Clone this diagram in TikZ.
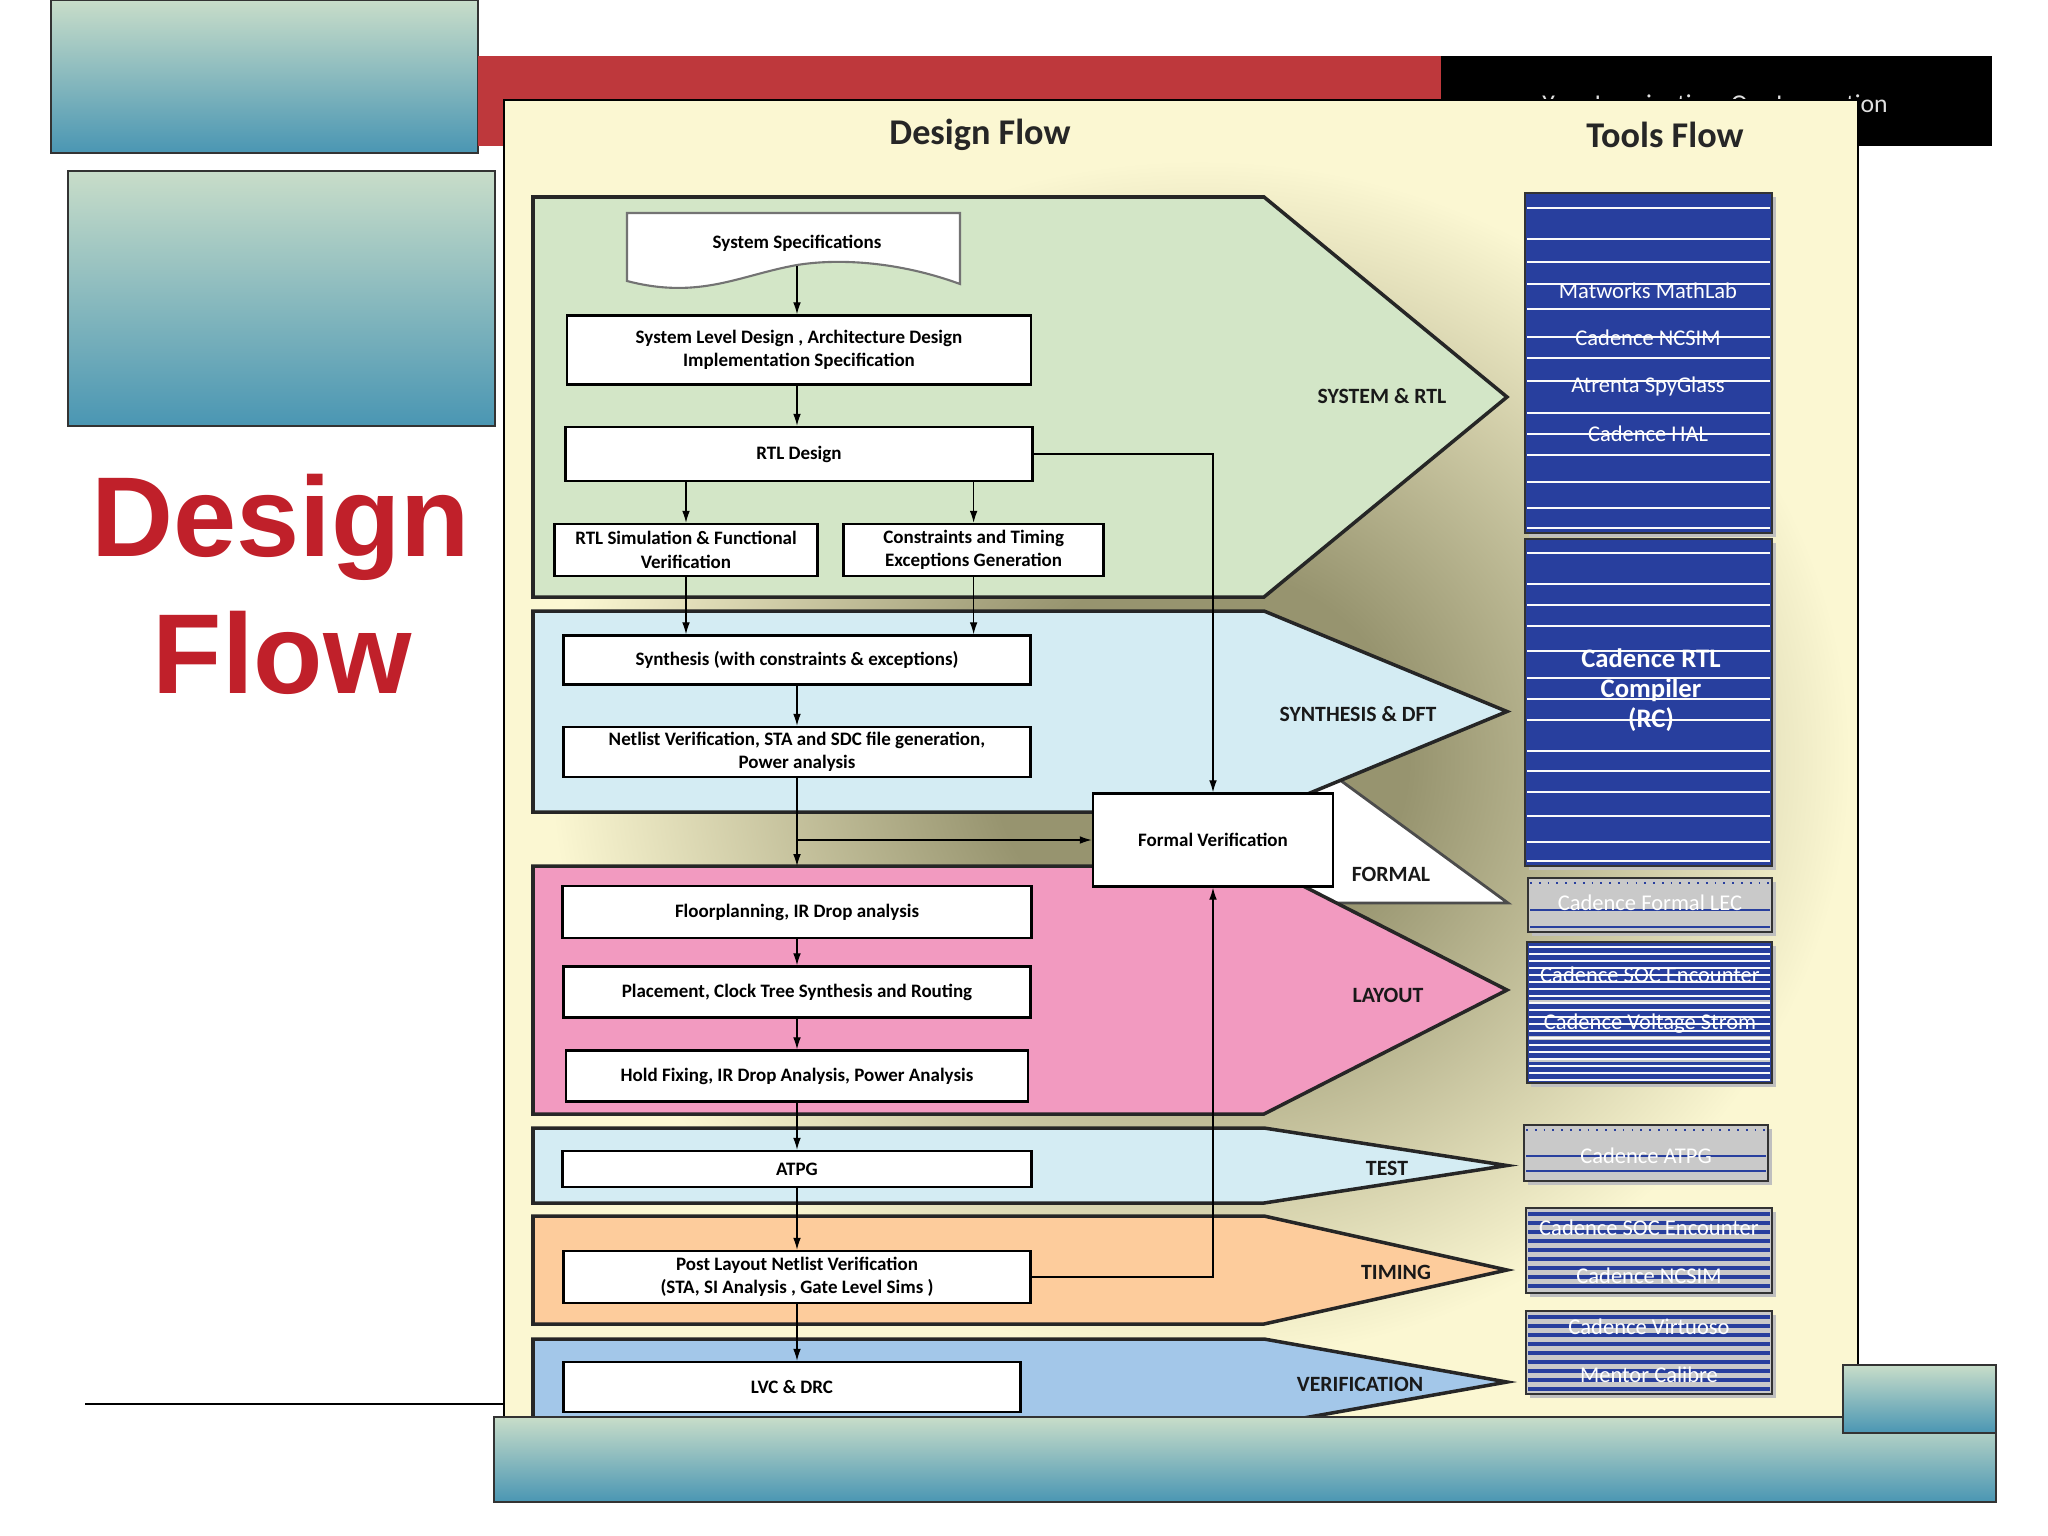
\documentclass[tikz,border=0pt]{standalone}
\usepackage{fontspec}
\setmainfont{Carlito}
\newfontfamily\arialfont{Liberation Sans}
\usetikzlibrary{positioning, arrows.meta}

\definecolor{panelc}{HTML}{FBF7D2}
\definecolor{shadowc}{HTML}{97946F}
\definecolor{sysgreen}{HTML}{D3E6C7}
\definecolor{synblue}{HTML}{D4ECF3}
\definecolor{laypink}{HTML}{F29AC0}
\definecolor{timpeach}{HTML}{FDCC9C}
\definecolor{verblue}{HTML}{A3C7E9}
\definecolor{toolblue}{HTML}{283F9E}
\definecolor{toolgray}{HTML}{C9C9C9}
\definecolor{tealtop}{HTML}{C8DDC9}
\definecolor{tealbot}{HTML}{4A96B3}
\definecolor{barred}{HTML}{BE383C}
\definecolor{titlered}{HTML}{C0202A}

\pgfdeclareradialshading{shadowblob}{\pgfpoint{0bp}{0bp}}{color(0bp)=(shadowc); color(8bp)=(shadowc); color(25bp)=(panelc); color(50bp)=(panelc)}

\tikzset{
  tealbox/.style={top color=tealtop, bottom color=tealbot, draw=black!80, line width=0.5pt},
  band/.style={draw=black!85, line width=1pt},
  bandlabel/.style={font=\fontsize{6.2}{7.5}\selectfont\bfseries, text=black!90},
  titletext/.style={font=\fontsize{10.3}{12}\selectfont\bfseries, text=black!85},
  flowbox/.style={draw=black, line width=0.7pt, fill=white, align=center, inner sep=0pt,
    font=\fontsize{5.4}{6.7}\selectfont\bfseries},
  flowtext/.style={font=\fontsize{5.4}{6.7}\selectfont\bfseries},
  flow/.style={-{Latex[length=3.4pt,width=2.2pt]}, line width=0.35pt},
  toolshadow/.style={fill=black!25},
  toolframe/.style={draw=black!80, line width=0.5pt},
  toolline/.style={draw=white!90!toolgray, line width=0.45pt},
  toollabel/.style={text=white, font=\fontsize{6.4}{7.5}\selectfont},
}

\begin{document}
\begin{tikzpicture}[x=0.01cm, y=-0.01cm]
  \useasboundingbox (0,0) rectangle (2048,1536);
  \fill[white] (0,0) rectangle (2048,1536);

  % slide frame
  \draw[tealbox] (51,0) rectangle (478,153);
  \draw[tealbox] (68,171) rectangle (495,426);
  \fill[barred] (478,56) rectangle (1441,146);
  \fill[black] (1441,56) rectangle (1992,146);
  \node[anchor=base, text=black!12, font=\fontsize{7.3}{9}\selectfont] (tagline) at (1715,112) {Your Imagination, Our Innovation};
  \node[anchor=base, text=titlered, font=\arialfont\bfseries\fontsize{32.3}{36}\selectfont] (bigdesign) at (281,556) {Design};
  \node[anchor=base, text=titlered, font=\arialfont\bfseries\fontsize{32.3}{36}\selectfont] (bigflow) at (282,693) {Flow};
  \draw[line width=0.5pt] (85,1404) -- (504,1404);

  % panel
  \draw[fill=panelc, line width=0.5pt] (504,100) rectangle (1858,1417);
  \begin{scope}
    \clip (504,100) rectangle (1858,1417);
    \shade[shading=shadowblob] (1200,760) ellipse [x radius=650, y radius=600];
  \end{scope}
  \node[titletext] (dftitle) at (980,135) {Design Flow};
  \node[titletext] (tftitle) at (1665,135) {Tools Flow};

  % bands
  \filldraw[fill=white, draw=black!70, line width=0.8pt] (1300,797) -- (1340,780) -- (1508,903) -- (1300,903) -- cycle;
  \foreach \yt/\yb/\col in {197/597/sysgreen, 611/812/synblue, 866/1114/laypink,
                            1128/1203/synblue, 1216/1324/timpeach, 1339/1425/verblue}
    \draw[band, fill=\col] (533,\yt) -- (1264,\yt) -- (1507,{(\yt+\yb)/2}) -- (1264,\yb) -- (533,\yb) -- cycle;

  \node[bandlabel] (lsys) at (1382,396) {SYSTEM \& RTL};
  \node[bandlabel] (lsyn) at (1358,714) {SYNTHESIS \& DFT};
  \node[bandlabel] (lformal) at (1391,874) {FORMAL};
  \node[bandlabel] (llay) at (1388,995) {LAYOUT};
  \node[bandlabel] (ltest) at (1387,1168) {TEST};
  \node[bandlabel] (ltim) at (1396,1272) {TIMING};
  \node[bandlabel] (lver) at (1360,1384) {VERIFICATION};

  % design flow
  \filldraw[fill=white, draw=black!55, line width=0.6pt] (627,213) -- (960,213) -- (960,284)
    .. controls (900,262) and (840,258) .. (797,265) .. controls (740,275) and (700,300) .. (627,281) -- cycle;
  \coordinate (specbot) at (797,266);
  \node[flowtext] (spec) at (797,243) {System Specifications};
  \node[flowbox, minimum width=4.64cm, minimum height=0.69cm] (syslvl) at (799,350)
    {System Level Design , Architecture Design\\Implementation Specification};
  \node[flowbox, minimum width=4.67cm, minimum height=0.54cm] (rtl) at (799,454) {RTL Design};
  \node[flowbox, minimum width=2.63cm, minimum height=0.52cm] (sim) at (686,550)
    {RTL Simulation \& Functional\\Verification};
  \node[flowbox, minimum width=2.60cm, minimum height=0.52cm, right=0.235cm of sim] (cons)
    {Constraints and Timing\\Exceptions Generation};
  \node[flowbox, minimum width=4.67cm, minimum height=0.49cm] (synth) at (797,660)
    {Synthesis (with constraints \& exceptions)};
  \node[flowbox, minimum width=4.67cm, minimum height=0.50cm] (netl) at (797,752)
    {Netlist Verification, STA and SDC file generation,\\Power analysis};
  \node[flowbox, minimum width=2.40cm, minimum height=0.93cm] (formal) at (1213,840) {Formal Verification};
  \coordinate (laytop) at (797,866);
  \node[flowbox, minimum width=4.69cm, minimum height=0.52cm] (floor) at (797,912) {Floorplanning, IR Drop analysis};
  \node[flowbox, minimum width=4.67cm, minimum height=0.51cm] (place) at (797,992)
    {Placement, Clock Tree Synthesis and Routing};
  \node[flowbox, minimum width=4.62cm, minimum height=0.51cm] (hold) at (797,1076)
    {Hold Fixing, IR Drop Analysis, Power Analysis};
  \node[flowbox, minimum width=4.69cm, minimum height=0.36cm] (atpg) at (797,1169) {ATPG};
  \node[flowbox, minimum width=4.67cm, minimum height=0.52cm] (post) at (797,1277)
    {Post Layout Netlist Verification\\(STA, SI Analysis , Gate Level Sims )};
  \node[flowbox, minimum width=4.57cm, minimum height=0.50cm] (lvc) at (792,1387) {LVC \& DRC};

  \path[flow]
    (specbot) edge (specbot |- syslvl.north)
    (syslvl.south -| specbot) edge (rtl.north -| specbot)
    (synth) edge (netl)
    (floor) edge (place)
    (place) edge (hold)
    (hold) edge (atpg)
    (atpg) edge (post)
    (post.south) edge (lvc.north -| post.south)
    ;
  \draw[flow] (rtl.south -| sim.north) -- (sim.north);
  \draw[flow] (rtl.south -| cons.north) -- (cons.north);
  \draw[flow] (sim.south) -- (synth.north -| sim.south);
  \draw[flow] (cons.south) -- (synth.north -| cons.south);
  \draw[flow] (netl.south) -- (laytop);
  \draw[flow] (netl.south |- formal.west) -- (formal.west);
  \draw[flow] (rtl.east) -| (formal.north);
  \draw[flow] (post.east) -| (formal.south);

  % tools flow
  \fill[toolshadow] (1529,197) rectangle (1776,537);
  \fill[toolblue] (1525,193) rectangle (1772,533);
  \foreach \y in {208,239,262,284,309,337,358,381,413,434,455,482,508,528}
    \draw[toolline] (1527,\y) -- (1770,\y);
  \draw[toolframe] (1525,193) rectangle (1772,533);
  \node[toollabel] (tmatlab) at (1648,291) {Matworks MathLab};
  \node[toollabel] (tncsim) at (1648,338) {Cadence NCSIM};
  \node[toollabel] (tspyglass) at (1648,386) {Atrenta SpyGlass};
  \node[toollabel] (thal) at (1648,434) {Cadence HAL};

  \fill[toolshadow] (1529,543) rectangle (1776,870);
  \fill[toolblue] (1525,539) rectangle (1772,866);
  \foreach \y in {553,584,605,626,651,678,699,720,751,771,792,816,842,861}
    \draw[toolline] (1527,\y) -- (1770,\y);
  \draw[toolframe] (1525,539) rectangle (1772,866);
  \node[toollabel, font=\fontsize{7.6}{8.5}\selectfont\bfseries, align=center] (trc) at (1651,690)
    {Cadence RTL\\Compiler\\(RC)};

  \fill[toolshadow] (1532,882) rectangle (1776,936);
  \fill[toolgray] (1528,878) rectangle (1772,932);
  \draw[toolblue, line width=0.5pt, dotted] (1530,883) -- (1770,883);
  \foreach \y in {910,927}
    \draw[toolblue, line width=0.7pt] (1530,\y) -- (1770,\y);
  \draw[toolframe] (1528,878) rectangle (1772,932);
  \node[toollabel] (tlec) at (1650,903) {Cadence Formal LEC};

  \fill[toolshadow] (1531,946) rectangle (1776,1087);
  \fill[toolblue] (1527,942) rectangle (1772,1083);
  \foreach \y in {1000,1036,1058}
    \fill[toolgray] (1529,\y) rectangle (1770,\y+4);
  \foreach \y in {947,954,...,1080}
    \draw[toolline] (1529,\y) -- (1770,\y);
  \draw[toolframe] (1527,942) rectangle (1772,1083);
  \node[toollabel] (tsoca) at (1650,975) {Cadence SOC Encounter};
  \node[toollabel] (tstorm) at (1650,1024) {Cadence Voltage Strom};

  \fill[toolshadow] (1528,1129) rectangle (1772,1185);
  \fill[toolgray] (1524,1125) rectangle (1768,1181);
  \draw[toolblue, line width=0.5pt, dotted] (1526,1130) -- (1766,1130);
  \foreach \y in {1156,1171}
    \draw[toolblue, line width=0.7pt] (1526,\y) -- (1766,\y);
  \draw[toolframe] (1524,1125) rectangle (1768,1181);
  \node[toollabel] (tatpg) at (1646,1156) {Cadence ATPG};

  \fill[toolshadow] (1530,1212) rectangle (1776,1297);
  \fill[toolgray] (1526,1208) rectangle (1772,1293);
  \foreach \y in {1212,1221,...,1288}
    \fill[toolblue] (1528,\y) rectangle (1770,\y+4);
  \draw[toolframe] (1526,1208) rectangle (1772,1293);
  \node[toollabel] (tsocb) at (1649,1228) {Cadence SOC Encounter};
  \node[toollabel] (tncsimb) at (1649,1276) {Cadence NCSIM};

  \fill[toolshadow] (1530,1315) rectangle (1776,1398);
  \fill[toolgray] (1526,1311) rectangle (1772,1394);
  \foreach \y in {1315,1324,...,1390}
    \fill[toolblue] (1528,\y) rectangle (1770,\y+4);
  \draw[toolframe] (1526,1311) rectangle (1772,1394);
  \node[toollabel] (tvirtuoso) at (1649,1327) {Cadence Virtuoso};
  \node[toollabel] (tcalibre) at (1649,1375) {Mentor Calibre};

  % bottom bars
  \draw[tealbox] (494,1417) rectangle (1996,1502);
  \draw[tealbox] (1843,1365) rectangle (1996,1433);
\end{tikzpicture}
\end{document}
